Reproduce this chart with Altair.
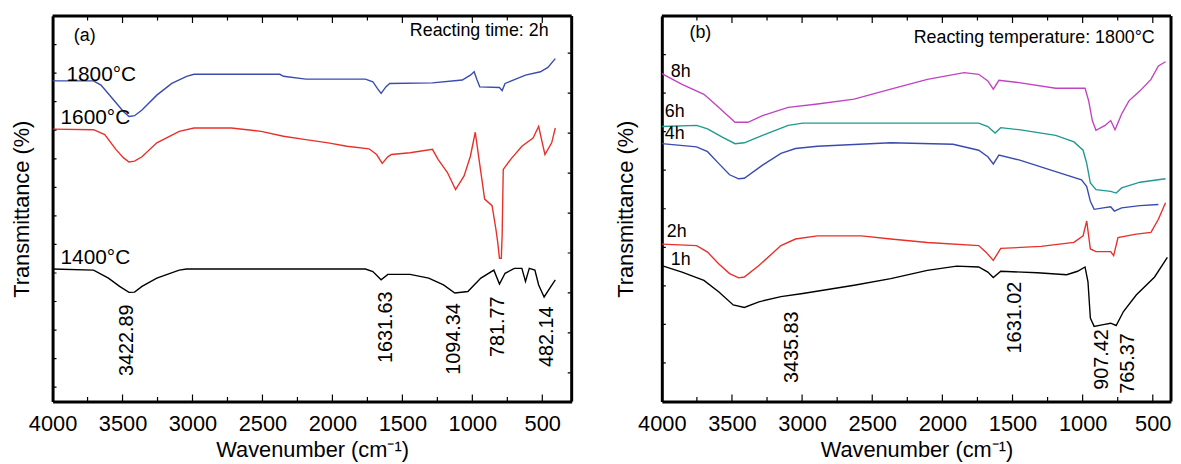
import altair as alt
import pandas as pd

FONT = "Liberation Sans"

# ---------------- Panel (a): reacting time 2h ----------------
a_names = ["1800°C", "1600°C", "1400°C"]
a_colors = ["#3a4bb0", "#e8302a", "#000000"]

a1800_w = [4000, 3707, 3654, 3574, 3494, 3454, 3414, 3361, 3255, 3148, 3042, 2989, 2376, 2350, 2190, 1764, 1711,
           1679, 1652, 1618, 1591, 1285, 1072, 1014, 987, 966, 947, 806, 787, 766, 620, 513, 460, 407]
a1800_t = [112.3, 112.3, 110.8, 106.2, 101.6, 99.8, 100.1, 102.1, 107.3, 111.4, 113.9, 114.6, 114.6, 113.9, 112.9,
           112.9, 112.0, 109.7, 107.9, 110.2, 111.4, 111.6, 112.6, 114.3, 115.5, 112.6, 110.2, 110.0, 108.9, 111.4,
           114.3, 115.5, 117.0, 120.1]

a1600_w = [4000, 3707, 3627, 3548, 3494, 3454, 3414, 3361, 3255, 3095, 2989, 2722, 2509, 2350, 2190, 2030, 1897,
           1738, 1684, 1644, 1604, 1578, 1445, 1285, 1245, 1178, 1120, 1059, 1014, 979, 952, 912, 859, 832, 819,
           806, 793, 787, 779, 726, 646, 566, 526, 500, 481, 433, 407]
a1600_t = [95.4, 95.2, 93.5, 88.3, 85.4, 83.9, 84.2, 85.7, 90.6, 94.6, 95.8, 95.8, 94.6, 92.9, 91.7, 90.6, 89.4,
           88.5, 86.5, 83.4, 85.7, 86.5, 87.1, 88.3, 84.8, 80.2, 74.2, 79.0, 85.9, 94.3, 84.8, 70.9, 68.6, 60.5,
           55.9, 50.1, 50.1, 58.2, 81.3, 84.8, 89.4, 92.3, 96.4, 90.6, 86.5, 90.6, 95.8]

a1400_w = [4000, 3707, 3601, 3521, 3454, 3414, 3361, 3255, 3095, 3042, 1764, 1711, 1652, 1604, 1445, 1312, 1206,
           1125, 1032, 939, 846, 806, 766, 700, 646, 620, 593, 553, 526, 487, 446, 407]
a1400_t = [46.4, 46.0, 43.2, 40.3, 38.2, 38.3, 40.3, 43.2, 46.0, 46.4, 46.4, 45.5, 42.6, 44.5, 44.5, 43.2, 40.8,
           38.0, 38.5, 43.2, 46.0, 41.1, 44.9, 46.6, 46.6, 42.0, 46.6, 46.0, 40.8, 36.6, 39.7, 42.6]

a_label_w = [3901, 3943, 3943]
a_label_t = [114.2, 99.3, 50.1]

a_peak_text = ["3422.89", "1631.63", "1094.34", "781.77", "482.14"]
a_peak_w = [3468, 1618, 1132, 817, 469]
a_peak_t = [34.0, 38.5, 34.4, 36.8, 33.3]

# ---------------- Panel (b): reacting temperature 1800°C ----------------
b_names = ["8h", "6h", "4h", "2h", "1h"]
b_colors = ["#c243c2", "#1e9a90", "#3a4bb0", "#e8302a", "#000000"]

b8_w = [4000, 3856, 3700, 3621, 3543, 3478, 3386, 3282, 3099, 2890, 2629, 2368, 2107, 1845, 1741, 1676, 1637,
        1597, 1454, 1192, 983, 957, 931, 905, 840, 800, 769, 722, 670, 591, 513, 460, 409]
b8_t = [114.8, 111.1, 107.6, 104.2, 100.7, 97.8, 97.8, 100.1, 103.0, 104.2, 105.9, 109.4, 112.8, 115.2, 114.6,
        112.3, 109.4, 112.5, 111.7, 109.7, 109.7, 105.3, 98.4, 95.0, 96.7, 98.4, 95.2, 100.7, 105.3, 108.8, 112.8,
        117.5, 119.0]

b6_w = [4000, 3752, 3674, 3569, 3478, 3412, 3282, 3099, 2995, 1741, 1676, 1624, 1584, 1454, 1192, 1062, 997, 971,
        945, 905, 800, 761, 722, 591, 409]
b6_t = [96.3, 96.7, 95.5, 92.6, 90.3, 90.6, 93.2, 96.7, 97.5, 97.5, 96.3, 94.0, 95.9, 95.2, 93.2, 90.9, 88.0, 83.4,
        76.5, 74.2, 73.6, 73.0, 74.8, 76.8, 78.0]

b4_w = [4000, 3752, 3674, 3595, 3517, 3452, 3412, 3282, 3151, 3047, 2890, 2368, 1924, 1741, 1676, 1637, 1597, 1454,
        1192, 1008, 971, 945, 918, 853, 800, 774, 722, 591, 460]
b4_t = [90.3, 89.2, 87.5, 83.4, 79.4, 78.0, 78.2, 82.8, 86.9, 88.6, 89.4, 90.6, 90.1, 88.0, 85.7, 83.2, 86.3, 84.6,
        80.5, 77.6, 75.3, 70.1, 67.3, 67.8, 68.2, 66.7, 67.8, 68.6, 69.0]

b2_w = [4000, 3752, 3674, 3595, 3517, 3452, 3412, 3308, 3151, 3047, 2890, 2577, 2368, 2107, 1741, 1689, 1637, 1584,
        1297, 1062, 997, 971, 945, 905, 800, 779, 748, 618, 513, 460, 409]
b2_t = [55.1, 54.6, 52.3, 48.2, 44.8, 43.3, 43.6, 47.6, 54.6, 56.9, 58.0, 58.0, 56.9, 55.7, 54.6, 52.3, 49.4, 53.6,
        54.3, 55.7, 58.0, 63.2, 53.4, 52.5, 52.5, 51.1, 57.4, 58.6, 59.2, 63.8, 69.6]

b1_w = [4000, 3856, 3700, 3595, 3491, 3412, 3308, 3151, 2995, 2629, 2368, 2107, 1898, 1741, 1676, 1637, 1584, 1323,
        1114, 1036, 983, 962, 945, 918, 853, 800, 761, 709, 618, 487, 396]
b1_t = [47.6, 45.3, 42.4, 38.4, 33.8, 32.9, 34.9, 36.7, 37.8, 40.7, 43.0, 45.9, 47.4, 47.1, 45.3, 43.4, 45.6, 45.1,
        44.4, 45.6, 47.1, 41.9, 29.2, 26.3, 26.9, 27.4, 26.6, 31.5, 37.3, 43.6, 50.5]

b_label_w = [3936, 3979, 3979, 3965, 3936]
b_label_t = [115.3, 101.4, 93.8, 59.5, 49.4]

b_peak_text = ["3435.83", "1631.02", "907.42", "765.37"]
b_peak_w = [3075, 1481, 859, 676]
b_peak_t = [31.5, 41.9, 25.3, 23.9]

# ---------------- axes / ticks ----------------
x_major = [4000, 3500, 3000, 2500, 2000, 1500, 1000, 500]
x_minor = [3750, 3250, 2750, 2250, 1750, 1250, 750]
a_yticks_left = [5, 15, 25, 35, 45, 55, 65, 75, 85, 95, 105, 115, 125]
a_yticks_right = [10, 24, 38, 52, 66, 80, 94, 108, 122]
b_yticks_left = [13.5, 27, 40.5, 54, 67.5, 81, 94.5, 108, 121.5]

Y_DOMAIN = [0, 135]
H = 389
FRAME_W = 3


def make_panel(names, colors, series, label_w, label_t, peak_text, peak_w, peak_t,
               tag, tag_w, tag_t, note, note_w, note_t, x_domain, width,
               y_left, y_right, title_pad, label_size):
    xs = alt.Scale(domain=x_domain, nice=False, zero=False)
    ys = alt.Scale(domain=Y_DOMAIN, nice=False, zero=False)
    x_axis = alt.Axis(values=x_major, format="d", labelFontSize=22, labelPadding=12, labelFlush=False,
                      ticks=False, domain=True, domainColor="black", domainWidth=FRAME_W, domainOpacity=1,
                      grid=False, title="Wavenumber (cm⁻¹)",
                      titleFontSize=22, titlePadding=6, titleFontWeight="normal",
                      labelColor="black", titleColor="black", labelFont=FONT, titleFont=FONT)
    y_axis = alt.Axis(labels=False, ticks=False, domain=True, domainColor="black", domainWidth=FRAME_W,
                      domainOpacity=1, grid=False, title="Transmittance (%)",
                      titleFontSize=22, titlePadding=title_pad, titleFontWeight="normal",
                      titleColor="black", titleFont=FONT)

    def X(field="w"):
        return alt.X(f"{field}:Q", scale=xs, axis=x_axis)

    def Y(field="t"):
        return alt.Y(f"{field}:Q", scale=ys, axis=y_axis)

    rows = []
    for (name, ws, ts), col in zip(series, colors):
        for i, (w, t) in enumerate(zip(ws, ts)):
            rows.append({"series": name, "w": w, "t": t, "order": i, "col": col})
    curves = pd.DataFrame(rows)

    lines = alt.Chart(curves).mark_line(strokeWidth=1.4, clip=True).encode(
        x=X(), y=Y(),
        color=alt.Color("col:N", scale=None, legend=None),
        detail="series:N",
        order="order:Q",
    )

    labels = alt.Chart(pd.DataFrame({"w": label_w, "t": label_t, "txt": names})).mark_text(
        align="left", baseline="middle", fontSize=label_size, font=FONT, color="black"
    ).encode(x=X(), y=Y(), text="txt:N")

    peaks = alt.Chart(pd.DataFrame({"w": peak_w, "t": peak_t, "txt": peak_text})).mark_text(
        angle=270, align="right", baseline="middle", fontSize=20, font=FONT, color="black"
    ).encode(x=X(), y=Y(), text="txt:N")

    tag_layer = alt.Chart(pd.DataFrame({"w": [tag_w], "t": [tag_t], "txt": [tag]})).mark_text(
        align="center", baseline="middle", fontSize=18, font=FONT, color="black"
    ).encode(x=X(), y=Y(), text="txt:N")

    note_layer = alt.Chart(pd.DataFrame({"w": [note_w], "t": [note_t], "txt": [note]})).mark_text(
        align="right", baseline="middle", fontSize=18, font=FONT, color="black"
    ).encode(x=X(), y=Y(), text="txt:N")

    one = pd.DataFrame({"k": [0]})
    top_edge = alt.Chart(one).mark_rule(color="black", strokeWidth=FRAME_W, opacity=1).encode(
        x=alt.value(0), x2=alt.value(width), y=alt.value(0))
    right_edge = alt.Chart(one).mark_rule(color="black", strokeWidth=FRAME_W, opacity=1).encode(
        x=alt.value(width), y=alt.value(0), y2=alt.value(H))

    layers = [lines, labels, peaks, tag_layer, note_layer, top_edge, right_edge]

    maj = pd.DataFrame({"w": x_major})
    mnr = pd.DataFrame({"w": x_minor})
    for ypos in [0, H]:
        layers.append(alt.Chart(maj).mark_tick(size=14, thickness=1.2, color="black", clip=True, opacity=1)
                      .encode(x=X(), y=alt.value(ypos)))
        layers.append(alt.Chart(mnr).mark_tick(size=9, thickness=1.2, color="black", clip=True, opacity=1)
                      .encode(x=X(), y=alt.value(ypos)))
    layers.append(alt.Chart(pd.DataFrame({"t": y_left})).mark_tick(size=8, thickness=1.2, color="black",
                                                                    clip=True, opacity=1)
                  .encode(y=Y(), x=alt.value(0)))
    if y_right:
        layers.append(alt.Chart(pd.DataFrame({"t": y_right})).mark_tick(size=8, thickness=1.2, color="black",
                                                                         clip=True, opacity=1)
                      .encode(y=Y(), x=alt.value(width)))

    return alt.layer(*layers).properties(width=width, height=H)


panel_a = make_panel(
    a_names, a_colors,
    [("1800°C", a1800_w, a1800_t), ("1600°C", a1600_w, a1600_t), ("1400°C", a1400_w, a1400_t)],
    a_label_w, a_label_t, a_peak_text, a_peak_w, a_peak_t,
    "(a)", 3770, 128.1, "Reacting time: 2h", 455, 129.8,
    [4000, 290], 524, a_yticks_left, a_yticks_right, 19, 21,
)

panel_b = make_panel(
    b_names, b_colors,
    [("8h", b8_w, b8_t), ("6h", b6_w, b6_t), ("4h", b4_w, b4_t), ("2h", b2_w, b2_t), ("1h", b1_w, b1_t)],
    b_label_w, b_label_t, b_peak_text, b_peak_w, b_peak_t,
    "(b)", 3725, 129.1, "Reacting temperature: 1800°C", 486, 127.4,
    [4000, 370], 514, b_yticks_left, None, 25, 18,
)

chart = alt.hconcat(panel_a, panel_b, spacing=41).properties(
    padding={"left": 3, "top": 4, "right": 0, "bottom": 0},
    background="white",
).configure_view(strokeWidth=0)

chart.save("out.html", embed_options={"renderer": "svg", "actions": False})
